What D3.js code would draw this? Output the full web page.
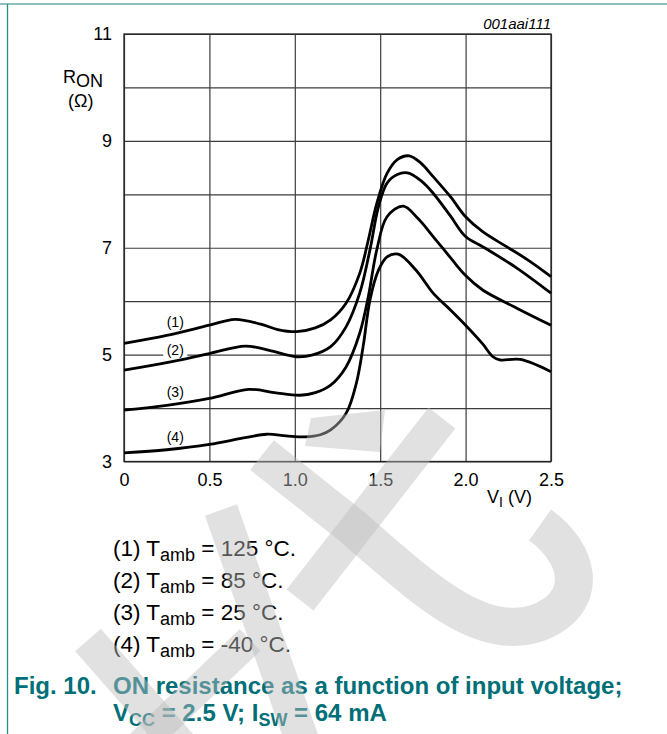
<!DOCTYPE html>
<html>
<head>
<meta charset="utf-8">
<script src="https://cdn.jsdelivr.net/npm/d3@7"></script>
<style>
    body { margin: 0; background: #fff; }
    svg { display: block; font-family: "Liberation Sans", Arial, sans-serif; }
    .axis .domain { display: none; }
    .axis line { stroke: #3c3c3c; stroke-width: 1.2; }
    .axis text { font-size: 18px; fill: #000; }
    .frame { fill: none; stroke: #222; stroke-width: 1.3; }
    .curve { fill: none; stroke: #000; stroke-width: 2.8; }
    .curve-label { font-size: 14px; }
    .legend { font-size: 22.5px; }
    .caption { font-size: 24px; font-weight: bold; fill: #006f78; }
    .watermark path { fill: none; stroke: #bdbdbd; stroke-opacity: 0.45; stroke-linecap: butt; stroke-linejoin: round; }
    .watermark path.patch { fill: #bdbdbd; fill-opacity: 0.45; stroke: none; }
</style>
</head>
<body>
<script>

// values: [V_I (V), R_ON (ohm)]
var curve125 = [[0, 5.21], [0.25, 5.36], [0.5, 5.55], [0.65, 5.66], [0.8, 5.57], [0.9, 5.47], [1.01, 5.43],
    [1.12, 5.5], [1.21, 5.65], [1.3, 5.96], [1.38, 6.52], [1.43, 7.14], [1.48, 7.83], [1.54, 8.39],
    [1.6, 8.65], [1.67, 8.72], [1.74, 8.58], [1.81, 8.33], [1.91, 7.96], [2.0, 7.58], [2.1, 7.3],
    [2.24, 7.02], [2.37, 6.76], [2.5, 6.46]];

var curve85 = [[0, 4.71], [0.25, 4.85], [0.5, 5.02], [0.71, 5.16], [0.85, 5.08], [1.01, 4.96], [1.1, 4.99],
    [1.21, 5.15], [1.3, 5.52], [1.38, 6.15], [1.44, 6.96], [1.49, 7.77], [1.54, 8.21], [1.6, 8.37],
    [1.66, 8.4], [1.74, 8.25], [1.81, 8.02], [1.91, 7.6], [2.0, 7.21], [2.1, 7.02], [2.3, 6.62],
    [2.5, 6.15]];

var curve25 = [[0, 3.96], [0.25, 4.05], [0.5, 4.18], [0.73, 4.35], [0.88, 4.29], [1.03, 4.24], [1.12, 4.29],
    [1.21, 4.43], [1.3, 4.77], [1.38, 5.4], [1.43, 6.08], [1.48, 6.96], [1.54, 7.58], [1.635, 7.78],
    [1.72, 7.55], [1.81, 7.21], [1.91, 6.82], [2.0, 6.48], [2.1, 6.21], [2.3, 5.87], [2.5, 5.55]];

var curveM40 = [[0, 3.16], [0.25, 3.22], [0.5, 3.32], [0.7, 3.44], [0.835, 3.51], [0.95, 3.48], [1.06, 3.46],
    [1.15, 3.5], [1.21, 3.59], [1.3, 3.9], [1.36, 4.46], [1.4, 5.15], [1.44, 6.02], [1.49, 6.58],
    [1.54, 6.83], [1.606, 6.88], [1.71, 6.58], [1.81, 6.15], [1.91, 5.84], [2.0, 5.55], [2.1, 5.2],
    [2.16, 4.96], [2.2, 4.9], [2.32, 4.91], [2.5, 4.68]];

var series = [curve125, curve85, curve25, curveM40];
var seriesNames = ["(1)", "(2)", "(3)", "(4)"];
var temperatures = ["125", "85", "25", "-40"];
// where each "(n)" tag sits, in data units
var tagAt = [[0.3, 5.52], [0.3, 4.99], [0.3, 4.21], [0.3, 3.37]];

var xTicks = [0, 0.5, 1, 1.5, 2, 2.5];
var xTickLabels = ["0", "0.5", "1.0", "1.5", "2.0", "2.5"];
var yTicks = [3, 4, 5, 6, 7, 8, 9, 10, 11];


(function draw() {

    var W = 667, H = 734
        , pl = 124, pr = 551
        , pt = 34, pb = 461.5
        ;

    var svg = d3.select("body").append("svg")
        .attr("width", W)
        .attr("height", H);

    // page rules
    svg.append("line")
        .attr("x1", 0).attr("x2", W)
        .attr("y1", 4).attr("y2", 4)
        .attr("stroke", "#6aabab").attr("stroke-width", 1.4);

    svg.append("line")
        .attr("x1", 7.5).attr("x2", 7.5)
        .attr("y1", 4).attr("y2", H)
        .attr("stroke", "#2b8a8c").attr("stroke-width", 1.3);

    var x = d3.scaleLinear().domain([0, 2.5]).range([pl, pr]);
    var y = d3.scaleLinear().domain([3, 11]).range([pb, pt]);

    var xAxis = d3.axisBottom(x)
        .tickValues(xTicks)
        .tickSizeInner(-(pb - pt))
        .tickSizeOuter(0)
        .tickPadding(12)
        .tickFormat(function(d, i) { return xTickLabels[i]; });

    var yAxis = d3.axisLeft(y)
        .tickValues(yTicks)
        .tickSizeInner(-(pr - pl))
        .tickSizeOuter(0)
        .tickPadding(12)
        .tickFormat(function(d) { return d % 2 ? d : ""; });

    svg.append("g")
        .attr("class", "axis axis--x")
        .attr("transform", "translate(0," + pb + ")")
        .call(xAxis)
        .attr("font-family", null).attr("font-size", null);

    svg.append("g")
        .attr("class", "axis axis--y")
        .attr("transform", "translate(" + pl + ",0)")
        .call(yAxis)
        .attr("font-family", null).attr("font-size", null);

    svg.append("rect")
        .attr("class", "frame")
        .attr("x", pl).attr("y", pt)
        .attr("width", pr - pl).attr("height", pb - pt);

    // axis titles
    var yTitle = svg.append("text")
        .attr("x", 63).attr("y", 83)
        .attr("font-size", 18);
    yTitle.append("tspan").text("R");
    yTitle.append("tspan").attr("dy", 4).text("ON");

    svg.append("text")
        .attr("x", 68).attr("y", 107)
        .attr("font-size", 18)
        .text("(\u03a9)");

    var xTitle = svg.append("text")
        .attr("x", 532).attr("y", 503)
        .attr("text-anchor", "end")
        .attr("font-size", 18);
    xTitle.append("tspan").text("V");
    xTitle.append("tspan").attr("dy", 4).attr("font-size", 14).text("I");
    xTitle.append("tspan").attr("dy", -4).text(" (V)");

    svg.append("text")
        .attr("x", pr).attr("y", 29)
        .attr("text-anchor", "end")
        .attr("font-size", 15)
        .attr("font-style", "italic")
        .text("001aai111");

    // curves
    var line = d3.line()
        .x(function(d) { return x(d[0]); })
        .y(function(d) { return y(d[1]); })
        .curve(d3.curveCatmullRom.alpha(0.5));

    svg.append("g")
        .selectAll("path")
        .data(series)
        .enter().append("path")
        .attr("class", "curve")
        .attr("d", line);

    var tags = svg.append("g")
        .selectAll("g")
        .data(seriesNames)
        .enter().append("g")
        .attr("transform", function(d, i) { return "translate(" + x(tagAt[i][0]) + "," + y(tagAt[i][1]) + ")"; });

    tags.append("rect")
        .attr("x", -12).attr("y", -12)
        .attr("width", 24).attr("height", 14)
        .attr("fill", function(d, i) { return i == 1 ? "#fff" : "none"; });

    tags.append("text")
        .attr("class", "curve-label")
        .attr("text-anchor", "middle")
        .text(function(d) { return d; });

    // legend
    var legend = svg.append("g")
        .selectAll("text")
        .data(seriesNames)
        .enter().append("text")
        .attr("class", "legend")
        .attr("x", 113)
        .attr("y", function(d, i) { return 556 + i * 32; });

    legend.append("tspan").text(function(d) { return d + " T"; });
    legend.append("tspan").attr("dy", 5).attr("font-size", 18).text("amb");
    legend.append("tspan").attr("dy", -5).text(function(d, i) { return " = " + temperatures[i] + " \u00b0C."; });

    // caption
    svg.append("text")
        .attr("class", "caption")
        .attr("x", 14).attr("y", 694)
        .text("Fig. 10.");

    svg.append("text")
        .attr("class", "caption")
        .attr("x", 113).attr("y", 694)
        .text("ON resistance as a function of input voltage;");

    var cap2 = svg.append("text")
        .attr("class", "caption")
        .attr("x", 113).attr("y", 721);
    cap2.append("tspan").text("V");
    cap2.append("tspan").attr("dy", 5).attr("font-size", 18).text("CC");
    cap2.append("tspan").attr("dy", -5).text(" = 2.5 V; I");
    cap2.append("tspan").attr("dy", 5).attr("font-size", 18).text("SW");
    cap2.append("tspan").attr("dy", -5).text(" = 64 mA");

    // background watermark strokes (drawn over, semi transparent)
    var wm = svg.append("g").attr("class", "watermark");
    wm.append("path").attr("stroke-width", 34).attr("d", "M 221 510 L 302 740");
    wm.append("path").attr("stroke-width", 38).attr("d", "M 262 455 L 350 525 C 420 585, 480 645, 540 622 C 592 600, 578 552, 540 525");
    wm.append("path").attr("stroke-width", 34).attr("d", "M 442 418 L 300 600");
    wm.append("path").attr("class", "patch").attr("d", "M 311 418 L 385 410 L 380 452 L 305 446 Z");
    wm.append("path").attr("stroke-width", 34).attr("d", "M 88 640 L 180 745");
    wm.append("path").attr("stroke-width", 30).attr("d", "M 250 640 L 140 745");

})();

</script>
</body>
</html>
